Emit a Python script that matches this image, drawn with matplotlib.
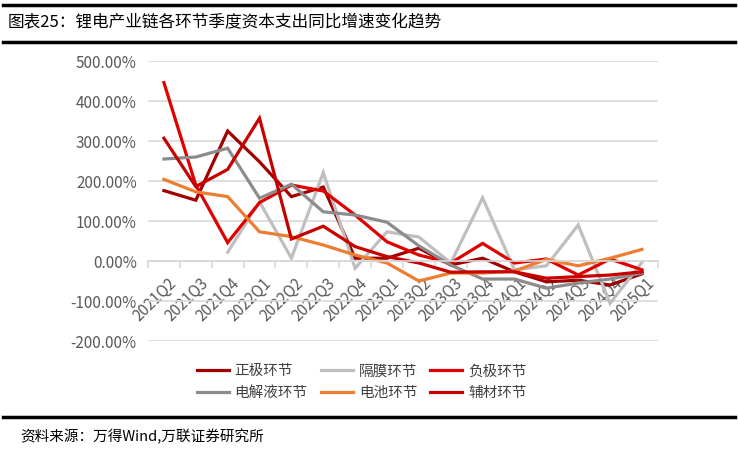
import numpy as np
import matplotlib.pyplot as plt
from matplotlib.lines import Line2D

plt.rcParams['font.family'] = ['Noto Sans CJK SC', 'DejaVu Sans']

# quarters on the x axis
quarters = ['2021Q2', '2021Q3', '2021Q4', '2022Q1', '2022Q2', '2022Q3', '2022Q4', '2023Q1',
            '2023Q2', '2023Q3', '2023Q4', '2024Q1', '2024Q2', '2024Q3', '2024Q4', '2025Q1']

# capex yoy growth, %
zhengji = [176, 152, 325, 248, 161, 185, 7, 7, 32, -10, 7, -27, -52, -48, -60, -32]
gemo = [np.nan, np.nan, 22, 148, 7, 221, -18, 73, 60, -5, 158, -22, -12, 90, -106, -3]
fuji = [446, 190, 46, 146, 190, 175, 115, 48, 15, -5, 44, -5, 5, -35, 5, -22]
dianjieye = [255, 260, 282, 157, 192, 123, 115, 97, 38, -10, -45, -45, -68, -55, -45, -30]
dianchi = [204, 173, 161, 73, 61, 40, 15, -5, -50, -30, -30, -25, 4, -12, 7, 29]
fucai = [307, 186, 229, 357, 55, 87, 36, 11, -5, -28, -27, -27, -43, -39, -35, -27]

names = ['正极环节', '隔膜环节', '负极环节', '电解液环节', '电池环节', '辅材环节']
colors = ['#A00000', '#BFBFBF', '#E00000', '#8C8C8C', '#ED7D31', '#C80000']
series = [zhengji, gemo, fuji, dianjieye, dianchi, fucai]

fig = plt.figure(figsize=(7.38, 4.5), dpi=100)
ax = fig.add_axes([0.2005, 0.2422, 0.691, 0.6222])

x = np.arange(len(quarters))
lines = {}
for name, c, s in zip(names, colors, series):
    ln, = ax.plot(x, s, color=c, lw=2.3, solid_joinstyle='miter')
    lines[name] = ln

ax.set_xlim(-0.5, len(quarters) - 0.5)
ax.set_ylim(-200, 500)
ax.set_yticks(np.arange(-200, 501, 100))
ax.set_yticklabels([f'{v:.2f}%' for v in range(-200, 501, 100)])
ax.yaxis.grid(True, color='#D9D9D9', lw=1.2)
ax.set_axisbelow(True)

for sp in ['top', 'right', 'left']:
    ax.spines[sp].set_visible(False)
ax.spines['bottom'].set_position(('data', 0))
ax.spines['bottom'].set_color('#D9D9D9')
ax.spines['bottom'].set_linewidth(1.2)

# labels sit a bit right of the category centre, as in the original
ax.set_xticks(x + 0.3)
ax.set_xticklabels(quarters, rotation=45, ha='right', va='center', rotation_mode='anchor')
ax.set_xticks(np.arange(-0.5, len(quarters), 1), minor=True)
ax.tick_params(axis='x', which='major', length=0, pad=14, labelsize=11, labelcolor='#595959')
ax.tick_params(axis='x', which='minor', length=5, color='#D9D9D9', width=1.2)
ax.tick_params(axis='y', length=0, pad=8, labelsize=11, labelcolor='#595959')

# legend, row by row like the original
order = ['正极环节', '电解液环节', '隔膜环节', '电池环节', '负极环节', '辅材环节']
fig.legend([lines[n] for n in order], order, loc='center', bbox_to_anchor=(0.49, 0.151),
           ncol=3, frameon=False, fontsize=10.5, handlelength=2.2, handletextpad=0.4,
           columnspacing=0.9, labelspacing=0.5, labelcolor='#404040')

# title and source
fig.add_artist(Line2D([0.004, 0.996], [1 - 5 / 450, 1 - 5 / 450], color='black', lw=2.5))
fig.add_artist(Line2D([0.004, 0.996], [1 - 42 / 450, 1 - 42 / 450], color='black', lw=2.5))
fig.add_artist(Line2D([0.004, 0.996], [1 - 417 / 450, 1 - 417 / 450], color='black', lw=2.5))
fig.text(8 / 738, 1 - 23 / 450, '图表25：锂电产业链各环节季度资本支出同比增速变化趋势',
         fontsize=12, va='center', ha='left', color='black')
fig.text(20 / 738, 1 - 437 / 450, '资料来源：万得Wind,万联证券研究所',
         fontsize=10.5, va='center', ha='left', color='black', style='italic')

fig.savefig('out.png', dpi=100)
